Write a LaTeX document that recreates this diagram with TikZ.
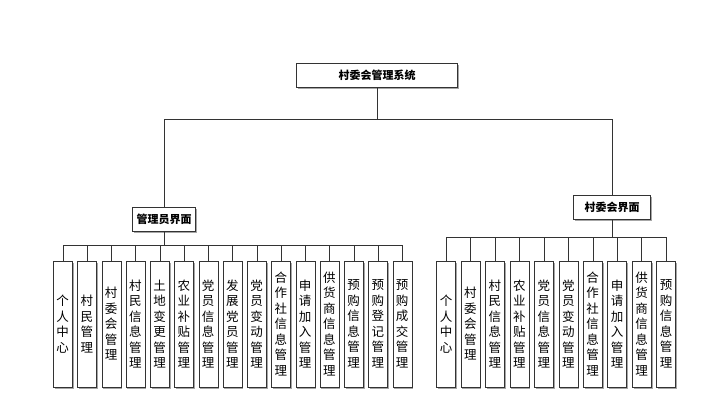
\documentclass[tikz,border=0pt]{standalone}
\usepackage{fontspec}
\setmainfont{Noto Sans CJK SC}
\usetikzlibrary{shadows}

\begin{document}
\begin{tikzpicture}[x=1pt,y=-1pt,
      every node/.append style={draw=black!80,fill=white,inner sep=0pt,
        drop shadow={shadow xshift=1.5pt,shadow yshift=-1.5pt,fill=black!35,opacity=1}},
      headbox/.style={font=\bfseries\fontsize{11}{13}\selectfont,minimum height=24pt},
      leafbox/.style={minimum width=19pt,minimum height=126pt,align=center,
        font=\fontsize{12.5}{15.5}\selectfont}]
    \useasboundingbox (0,0) rectangle (721,400);
    \node (ROOT) [headbox,minimum width=161pt] at (377,75) {村委会管理系统};
    \node (admin) [headbox,minimum width=63pt] at (164,219.5) {管理员界面};
    \node (village) [headbox,minimum width=77pt] at (612,207.5) {村委会界面};
    \draw[black!80] (ROOT) -- (377,119) -| (admin);
    \draw[black!80] (377,119) -| (village);
    % admin side
    \foreach \t [count=\i] in {个\\人\\中\\心, 村\\民\\管\\理, 村\\委\\会\\管\\理,
        村\\民\\信\\息\\管\\理, 土\\地\\变\\更\\管\\理, 农\\业\\补\\贴\\管\\理,
        党\\员\\信\\息\\管\\理, 发\\展\\党\\员\\管\\理, 党\\员\\变\\动\\管\\理,
        合\\作\\社\\信\\息\\管\\理, 申\\请\\加\\入\\管\\理, 供\\货\\商\\信\\息\\管\\理,
        预\\购\\信\\息\\管\\理, 预\\购\\登\\记\\管\\理, 预\\购\\成\\交\\管\\理} {
      \node (a\i) [leafbox] at ({62.7+24.25*(\i-1)},324) {\t};
      \draw[black!80] (admin.south) -- (164,245) -| (a\i.north);
    }
    % village side
    \foreach \t [count=\i] in {个\\人\\中\\心, 村\\委\\会\\管\\理, 村\\民\\信\\息\\管\\理,
        农\\业\\补\\贴\\管\\理, 党\\员\\信\\息\\管\\理, 党\\员\\变\\动\\管\\理,
        合\\作\\社\\信\\息\\管\\理, 申\\请\\加\\入\\管\\理, 供\\货\\商\\信\\息\\管\\理,
        预\\购\\信\\息\\管\\理} {
      \node (v\i) [leafbox] at ({446+24.45*(\i-1)},324) {\t};
      \draw[black!80] (village.south) -- (612,237) -| (v\i.north);
    }
\end{tikzpicture}
\end{document}
